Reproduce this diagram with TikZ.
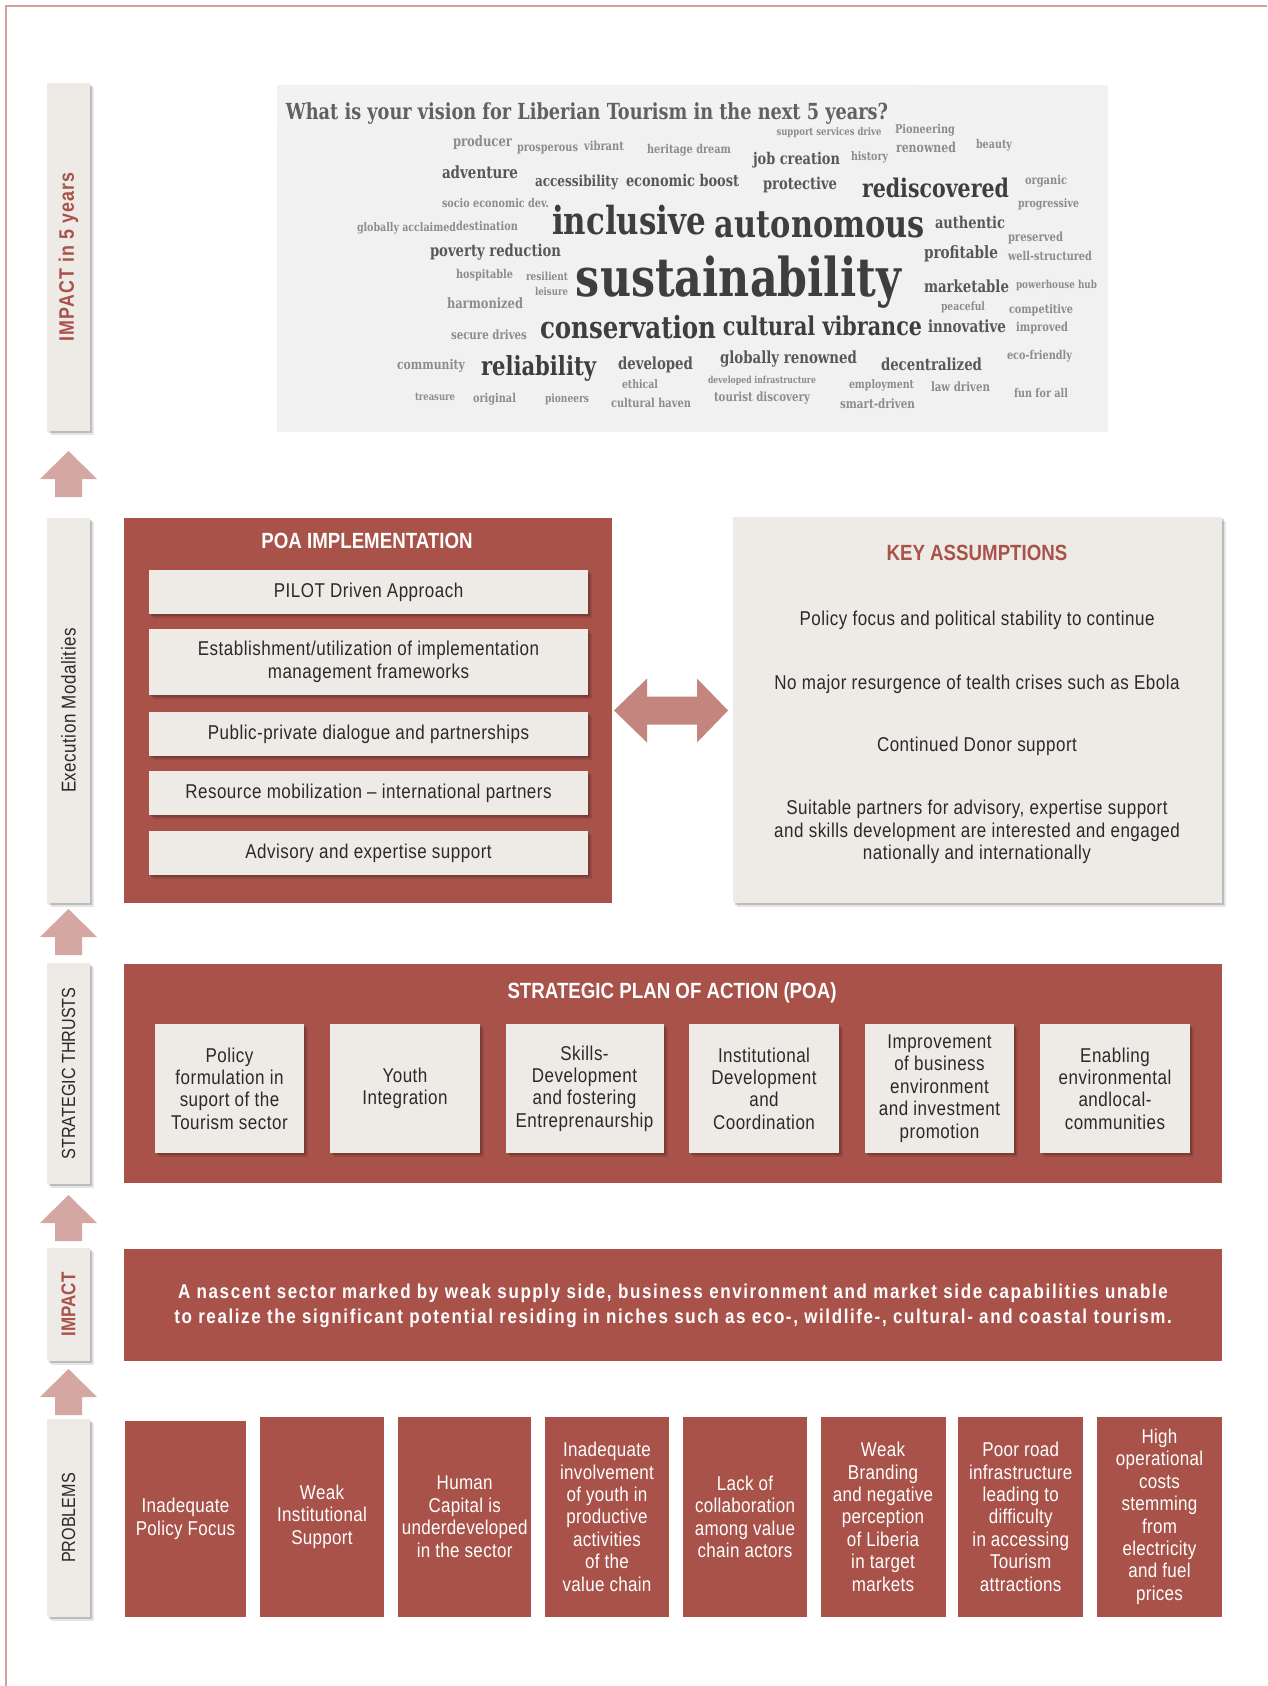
\documentclass[tikz,border=0pt]{standalone}
\usepackage{fontspec}
\setmainfont{Liberation Sans}[FakeStretch=0.85]
\newfontfamily\trackA{Liberation Sans}[FakeStretch=0.85,LetterSpace=2.5]
\newfontfamily\trackB{Liberation Sans}[FakeStretch=0.85,LetterSpace=8]
\newfontfamily\trackC{Liberation Sans}[FakeStretch=0.85,LetterSpace=5]
\newfontfamily\trackD{Liberation Sans}[FakeStretch=0.85,LetterSpace=1.5]
\newfontfamily\cloudfont{DejaVu Serif}[FakeStretch=0.8]
\usetikzlibrary{shadows,calc}
\definecolor{brick}{HTML}{A8524A}
\definecolor{light}{HTML}{EEEBE7}
\definecolor{ink}{HTML}{2A2A2A}
\definecolor{uparrc}{HTML}{D4A7A2}
\definecolor{darrc}{HTML}{C4857F}
\definecolor{bordc}{HTML}{D6A19D}
\definecolor{cloudbg}{HTML}{F1F1F1}
\definecolor{cbig}{HTML}{3E3E3E}
\definecolor{cmed}{HTML}{585858}
\definecolor{csmall}{HTML}{8C8C8C}
\begin{document}
\begin{tikzpicture}[x=1pt,y=-1pt,
  every node/.style={inner sep=0pt,outer sep=0pt},
  shad/.style={drop shadow={shadow xshift=2pt,shadow yshift=-2pt,opacity=0.18,fill=black},
               drop shadow={shadow xshift=4pt,shadow yshift=-4pt,opacity=0.10,fill=black}},
  lbl/.style={fill=light,shad,minimum width=43pt},
  lbltxt/.style={rotate=90,font=\fontsize{19}{19}\selectfont,text=ink},
  lbltxtb/.style={rotate=90,font=\fontsize{20}{20}\selectfont\bfseries,text=brick},
  panel/.style={fill=brick},
  ttl/.style={font=\fontsize{22}{22}\selectfont\bfseries},
  body/.style={font=\trackA\fontsize{20}{22.4}\selectfont,align=center},
  lightbox/.style={fill=light,shad,body,text=ink},
  probbox/.style={fill=brick,body,font=\trackD\fontsize{20}{22.4}\selectfont,text=white,minimum height=200.5pt},
  stratbox/.style={lightbox,minimum height=129pt},
  poabox/.style={lightbox,minimum width=439pt,minimum height=44pt},
  uparr/.style={fill=uparrc},
  cwb/.style={text=cbig,font=\cloudfont\bfseries},
  cwm/.style={text=cmed,font=\cloudfont\bfseries},
  cws/.style={text=csmall,font=\cloudfont\bfseries}]

\fill[white] (0,0) rectangle (1267,1686);
\useasboundingbox (0,0) rectangle (1267,1686);
\draw[bordc,line width=1.5pt] (6,1686) -- (6,6) -- (1267,6);

% ---------- left labels ----------
\node[lbl,minimum height=348pt] (L1) at (68.5,257) {};
\node[lbltxtb,font=\trackC\fontsize{21}{21}\selectfont\bfseries] (L1t) at (L1) {IMPACT in 5 years};
\node[lbl,minimum height=385pt] (L2) at (68.5,710.5) {};
\node[lbltxt,font=\trackA\fontsize{20}{20}\selectfont] (L2t) at (L2) {Execution Modalities};
\node[lbl,minimum height=221pt] (L3) at (68.5,1073.5) {};
\node[lbltxt] (L3t) at (L3) {STRATEGIC THRUSTS};
\node[lbl,minimum height=113pt] (L4) at (68.5,1304.5) {};
\node[lbltxtb] (L4t) at (L4) {IMPACT};
\node[lbl,minimum height=198pt] (L5) at (68.5,1518) {};
\node[lbltxt] (L5t) at (L5) {PROBLEMS};

% ---------- up arrows ----------
\coordinate (u1) at (68.5,497);
\coordinate (u2) at (68.5,955);
\coordinate (u3) at (68.5,1241);
\coordinate (u4) at (68.5,1415);
\foreach \u in {u1,u2,u3,u4}{
  \fill[uparr] (\u) ++(-13.5,0) -- ++(0,-18) -- ++(-15,0) -- ++(28.5,-28)
     -- ++(28.5,28) -- ++(-15,0) -- ++(0,18) -- cycle;
}

% ---------- word cloud ----------
\node[fill=cloudbg,minimum width=831pt,minimum height=347pt] (cloud) at (692.5,258.5) {};
\fill[black!5] (277,85) rectangle (915,126);
\node[text=black!62,font=\cloudfont\bfseries] (ctitle) at (587,114) {\resizebox{602pt}{!}{What is your vision for Liberian Tourism in the next 5 years?}};
% big
\node[cwb] (w1) at (629,220) {\resizebox{154pt}{!}{inclusive}};
\node[cwb] (w2) at (820,225) {\resizebox{210pt}{!}{autonomous}};
\node[cwb] (w3) at (738.5,282) {\resizebox{325pt}{!}{sustainability}};
\node[cwb] (w4) at (628,327) {\resizebox{176pt}{!}{conservation}};
\node[cwb] (w5) at (822.5,326) {\resizebox{199pt}{!}{cultural vibrance}};
\node[cwb] (w6) at (935.5,188) {\resizebox{147pt}{!}{rediscovered}};
\node[cwb] (w7) at (538.5,368) {\resizebox{115pt}{!}{reliability}};
% medium
\node[cwm] (w8) at (796.5,160) {\resizebox{87pt}{!}{job creation}};
\node[cwm] (w9) at (576.5,182) {\resizebox{83pt}{!}{accessibility}};
\node[cwm] (w10) at (682.5,180) {\resizebox{113pt}{!}{economic boost}};
\node[cwm] (w11) at (800,185) {\resizebox{74pt}{!}{protective}};
\node[cwm] (w12) at (495.5,252) {\resizebox{131pt}{!}{poverty reduction}};
\node[cwm] (w13) at (961,254) {\resizebox{74pt}{!}{profitable}};
\node[cwm] (w14) at (966.5,286) {\resizebox{85pt}{!}{marketable}};
\node[cwm] (w15) at (967,326) {\resizebox{78pt}{!}{innovative}};
\node[cwm] (w16) at (970,222) {\resizebox{70pt}{!}{authentic}};
\node[cwm] (w17) at (655.5,365) {\resizebox{75pt}{!}{developed}};
\node[cwm] (w18) at (788.5,359) {\resizebox{137pt}{!}{globally renowned}};
\node[cwm] (w19) at (931.5,364) {\resizebox{101pt}{!}{decentralized}};
\node[cwm] (w20) at (480,172) {\resizebox{76pt}{!}{adventure}};
% small
\node[cws] (w21) at (829,133) {\resizebox{105pt}{!}{support services drive}};
\node[cws] (w22) at (925,130) {\resizebox{60pt}{!}{Pioneering}};
\node[cws] (w23) at (926,147) {\resizebox{60pt}{!}{renowned}};
\node[cws] (w24) at (994,145) {\resizebox{36pt}{!}{beauty}};
\node[cws] (w25) at (482.5,143) {\resizebox{59pt}{!}{producer}};
\node[cws] (w26) at (547.5,150) {\resizebox{61pt}{!}{prosperous}};
\node[cws] (w27) at (604,146) {\resizebox{40pt}{!}{vibrant}};
\node[cws] (w28) at (689,150) {\resizebox{84pt}{!}{heritage dream}};
\node[cws] (w29) at (869.5,157) {\resizebox{37pt}{!}{history}};
\node[cws] (w30) at (1046,181) {\resizebox{42pt}{!}{organic}};
\node[cws] (w31) at (495.5,203) {\resizebox{107pt}{!}{socio economic dev.}};
\node[cws] (w32) at (1048.5,204) {\resizebox{61pt}{!}{progressive}};
\node[cws] (w33) at (406.5,228) {\resizebox{99pt}{!}{globally acclaimed}};
\node[cws] (w34) at (487,226) {\resizebox{62pt}{!}{destination}};
\node[cws] (w35) at (1035.5,238) {\resizebox{55pt}{!}{preserved}};
\node[cws] (w36) at (1050,256) {\resizebox{84pt}{!}{well-structured}};
\node[cws] (w37) at (484.5,275) {\resizebox{57pt}{!}{hospitable}};
\node[cws] (w38) at (547,276) {\resizebox{42pt}{!}{resilient}};
\node[cws] (w39) at (551.5,292) {\resizebox{33pt}{!}{leisure}};
\node[cws] (w40) at (1056.5,285) {\resizebox{81pt}{!}{powerhouse hub}};
\node[cws] (w41) at (485,303) {\resizebox{76pt}{!}{harmonized}};
\node[cws] (w42) at (963,307) {\resizebox{44pt}{!}{peaceful}};
\node[cws] (w43) at (1041,310) {\resizebox{64pt}{!}{competitive}};
\node[cws] (w44) at (1042,328) {\resizebox{52pt}{!}{improved}};
\node[cws] (w45) at (489,335) {\resizebox{76pt}{!}{secure drives}};
\node[cws] (w46) at (431,366) {\resizebox{68pt}{!}{community}};
\node[cws] (w47) at (1039.5,356) {\resizebox{65pt}{!}{eco-friendly}};
\node[cws] (w48) at (640,384) {\resizebox{36pt}{!}{ethical}};
\node[cws] (w49) at (762,381) {\resizebox{108pt}{!}{developed infrastructure}};
\node[cws] (w50) at (881.5,385) {\resizebox{65pt}{!}{employment}};
\node[cws] (w51) at (960.5,387) {\resizebox{59pt}{!}{law driven}};
\node[cws] (w52) at (1041,393) {\resizebox{54pt}{!}{fun for all}};
\node[cws] (w53) at (435,397) {\resizebox{40pt}{!}{treasure}};
\node[cws] (w54) at (494.5,399) {\resizebox{43pt}{!}{original}};
\node[cws] (w55) at (567,399) {\resizebox{44pt}{!}{pioneers}};
\node[cws] (w56) at (651,403) {\resizebox{80pt}{!}{cultural haven}};
\node[cws] (w57) at (762,398) {\resizebox{96pt}{!}{tourist discovery}};
\node[cws] (w58) at (877.5,404) {\resizebox{75pt}{!}{smart-driven}};

% ---------- POA implementation ----------
\node[panel,minimum width=488pt,minimum height=385pt] (poa) at (368,710.5) {};
\node[ttl,text=white] (poat) at (367,541) {POA IMPLEMENTATION};
\node[poabox] (b1) at (368.5,592) {PILOT Driven Approach};
\node[poabox,minimum height=66pt] (b2) at (368.5,662) {Establishment/utilization of implementation\\management frameworks};
\node[poabox] (b3) at (368.5,734) {Public-private dialogue and partnerships};
\node[poabox] (b4) at (368.5,793) {Resource mobilization – international partners};
\node[poabox] (b5) at (368.5,853) {Advisory and expertise support};

% ---------- key assumptions ----------
\node[fill=light,shad,minimum width=489pt,minimum height=386pt] (key) at (977.5,710) {};
\node[ttl,text=brick] (keyt) at (977,553) {KEY ASSUMPTIONS};
\node[body,text=ink] (k1) at (977,620) {Policy focus and political stability to continue};
\node[body,text=ink] (k2) at (977,684) {No major resurgence of tealth crises such as Ebola};
\node[body,text=ink] (k3) at (977,746) {Continued Donor support};
\node[body,text=ink] (k4) at (977,832) {Suitable partners for advisory, expertise support\\and skills development are interested and engaged\\nationally and internationally};

% double arrow between the two panels
\fill[darrc] ($(poa.east)+(2,0)$) -- ++(33,-32) -- ++(0,18) -- ++(50,0) -- ++(0,-18)
   -- ++(31,32) -- ++(-31,32) -- ++(0,-18) -- ++(-50,0) -- ++(0,18) -- cycle;

% ---------- strategic plan ----------
\node[panel,minimum width=1098pt,minimum height=219pt] (spa) at (673,1073.5) {};
\node[ttl,text=white] (spat) at (672,993) {STRATEGIC PLAN OF ACTION (POA)};
\node[stratbox,minimum width=149pt] (s1) at (229.5,1088.5) {Policy\\formulation in\\suport of the\\Tourism sector};
\node[stratbox,minimum width=150pt] (s2) at (405,1088.5) {Youth\\Integration};
\node[stratbox,minimum width=158pt] (s3) at (584.5,1088.5) {Skills-\\Development\\and fostering\\Entreprenaurship};
\node[stratbox,minimum width=149.5pt] (s4) at (764,1088.5) {Institutional\\Development\\and\\Coordination};
\node[stratbox,minimum width=149pt] (s5) at (939.5,1088.5) {Improvement\\of business\\environment\\and investment\\promotion};
\node[stratbox,minimum width=150pt] (s6) at (1115,1088.5) {Enabling\\environmental\\andlocal-\\communities};

% ---------- impact ----------
\node[panel,minimum width=1098pt,minimum height=112pt] (imp) at (673,1305) {};
\node[font=\trackB\fontsize{20}{25}\selectfont\bfseries,text=white,align=center] (impt) at (673,1306)
  {A nascent sector marked by weak supply side, business environment and market side capabilities unable\\to realize the significant potential residing in niches such as eco-, wildlife-, cultural- and coastal tourism.};

% ---------- problems ----------
\node[probbox,minimum width=121.5pt,minimum height=196pt] (p1) at (185.5,1519) {Inadequate\\Policy Focus};
\node[probbox,minimum width=124pt] (p2) at (322,1516.75) {Weak\\Institutional\\Support};
\node[probbox,minimum width=133pt] (p3) at (464.7,1516.75) {Human\\Capital is\\underdeveloped\\in the sector};
\node[probbox,minimum width=124pt] (p4) at (607,1516.75) {Inadequate\\involvement\\of youth in\\productive\\activities\\of the\\value chain};
\node[probbox,minimum width=124pt] (p5) at (745,1516.75) {Lack of\\collaboration\\among value\\chain actors};
\node[probbox,minimum width=125pt] (p6) at (883,1516.75) {Weak\\Branding\\and negative\\perception\\of Liberia\\in target\\markets};
\node[probbox,minimum width=125pt] (p7) at (1020.7,1516.75) {Poor road\\infrastructure\\leading to\\difficulty\\in accessing\\Tourism\\attractions};
\node[probbox,minimum width=125pt] (p8) at (1159.5,1516.75) {High\\operational\\costs\\stemming\\from\\electricity\\and fuel\\prices};
\end{tikzpicture}
\end{document}
